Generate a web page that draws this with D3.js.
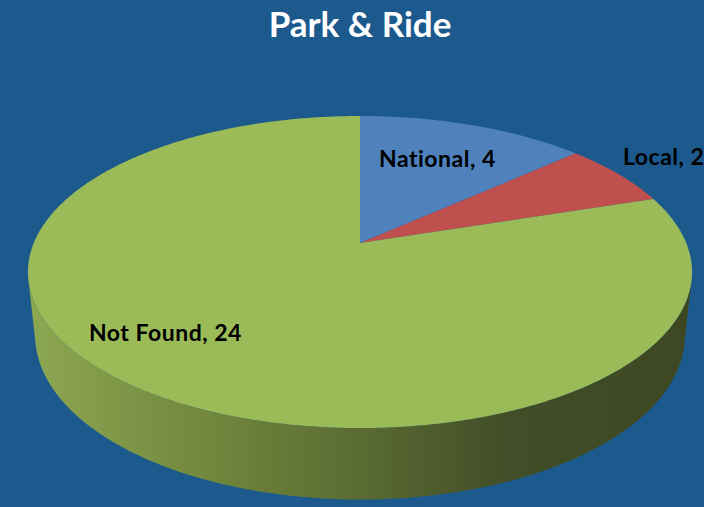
<!DOCTYPE html>
<html>
<head>
<meta charset="utf-8">
<script src="https://cdn.jsdelivr.net/npm/d3@7"></script>
<style>
  body { margin: 0; background: #1C5A8E; overflow: hidden; }
  text { font-family: Lato, "Open Sans", sans-serif; font-weight: bold; }
</style>
</head>
<body>
<div class="pie-chart"></div>
<script>
const categories = ["National", "Local", "Not Found"];
const values = [4, 2, 24];
const colors = ["#4F81BD", "#C0504D", "#9BBB59"];

const width = 704;
const height = 507;

// 3d view of the disc (radius 1), camera tilted down
const cx = 360, cy = 243;
const tilt = 27.5 * Math.PI / 180;
const dist = 4.77;
const focal = 1556;
const thick = 0.22;

function project(theta, down) {
    // theta clockwise from the back of the disc, seen from above
    const x = Math.sin(theta);
    const z = -Math.cos(theta);
    const depth = dist + down * Math.sin(tilt) - z * Math.cos(tilt);
    return [
        cx + focal * x / depth,
        cy + focal * (down * Math.cos(tilt) + z * Math.sin(tilt)) / depth
    ];
}

function arcPoints(a0, a1, down) {
    const n = Math.max(2, Math.ceil(Math.abs(a1 - a0) / 0.01));
    return d3.range(n + 1).map(i => project(a0 + (a1 - a0) * i / n, down));
}

const svg = d3.select('.pie-chart')
    .append('svg')
    .attr("width", width)
    .attr("height", height);

svg.append("rect")
    .attr("width", width)
    .attr("height", height)
    .attr("fill", "#1C5A8E");

const grad = svg.append("defs").append("linearGradient")
    .attr("id", "side")
    .attr("gradientUnits", "userSpaceOnUse")
    .attr("x1", 28).attr("x2", 692).attr("y1", 0).attr("y2", 0);
[[0, "#8DA852"], [0.33, "#6B8039"], [0.5, "#5A6B33"], [0.72, "#424E27"], [1, "#3D4823"]]
    .forEach(s => grad.append("stop").attr("offset", s[0]).attr("stop-color", s[1]));

const pie = d3.pie().sort(null).value(d => d.value);
const data = categories.map((c, i) => ({ name: c, value: values[i], color: colors[i] }));
const arcs = pie(data);

const line = d3.line();

// visible part of the side wall (where it faces the camera)
const s = Math.acos(-1 / (dist * Math.cos(tilt)));
const sideStart = s, sideEnd = 2 * Math.PI - s;
arcs.forEach(a => {
    const a0 = Math.max(a.startAngle, sideStart);
    const a1 = Math.min(a.endAngle, sideEnd);
    if (a1 <= a0) return;
    const pts = arcPoints(a0, a1, 0).concat(arcPoints(a1, a0, thick));
    svg.append("path")
        .attr("d", line(pts) + "Z")
        .attr("fill", "url(#side)");
});

// top faces
svg.selectAll(".slice")
    .data(arcs)
    .enter()
    .append("path")
    .attr("class", "slice")
    .attr("d", a => line([[cx, cy]].concat(arcPoints(a.startAngle, a.endAngle, 0))) + "Z")
    .attr("fill", a => a.data.color);

// labels
const labelPos = [[379, 167], [623, 165], [89, 341]];
svg.selectAll(".label")
    .data(arcs)
    .enter()
    .append("text")
    .attr("class", "label")
    .attr("x", (a, i) => labelPos[i][0])
    .attr("y", (a, i) => labelPos[i][1])
    .attr("font-size", 23)
    .attr("letter-spacing", 0.5)
    .attr("fill", "#000")
    .text(a => a.data.name + ", " + a.data.value);

svg.append("text")
    .attr("x", cx)
    .attr("y", 37)
    .attr("text-anchor", "middle")
    .attr("font-size", 35)
    .attr("fill", "#fff")
    .text("Park & Ride");
</script>
</body>
</html>
